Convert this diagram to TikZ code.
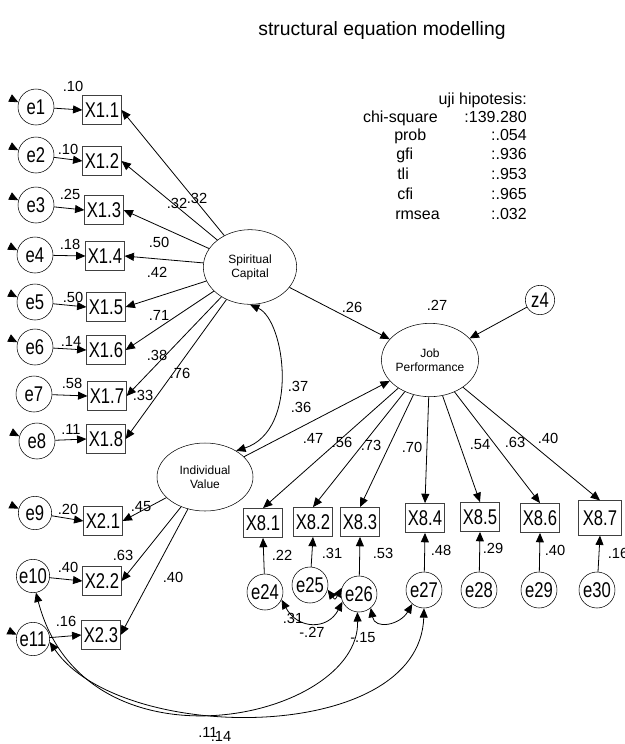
\documentclass[tikz,border=0pt]{standalone}
\usepackage{fontspec}
\setmainfont{Liberation Sans}
\newfontfamily\narrowfont{Liberation Sans}[FakeStretch=0.78]
\usepackage{tikz}
\usetikzlibrary{arrows.meta,shapes.geometric,calc}
\tikzset{
 latent/.style={draw,ellipse,minimum width=72pt,minimum height=55pt,inner sep=0pt,align=center,
   font=\fontsize{9}{10.5}\selectfont},
 obs/.style={draw=black!75,minimum width=29pt,minimum height=22pt,inner sep=0pt,
   font=\narrowfont\fontsize{16}{16}\selectfont},
 errc/.style={draw,circle,minimum size=27pt,inner sep=0pt,font=\narrowfont\fontsize{16}{16}\selectfont},
 arr/.style={-{Triangle[length=7pt,width=6pt]},line width=0.6pt},
 cov/.style={{Triangle[length=7pt,width=6pt]}-{Triangle[length=7pt,width=6pt]},line width=0.6pt},
 lbl/.style={font=\fontsize{11}{11}\selectfont,inner sep=0pt},
 stat/.style={font=\fontsize{12}{12}\selectfont,inner sep=0pt,text height=1.5ex,text depth=.3ex}
}
\begin{document}
\begin{tikzpicture}[x=0.75pt,y=-0.75pt]
\useasboundingbox (0,0) rectangle (625,744);
\node[font=\fontsize{14.5}{15}\selectfont] (title) at (382,30) {structural equation modelling};
% fit summary
\node[stat,anchor=east] (hyp) at (527,100) {uji hipotesis:};
\node[stat,anchor=east] (chil) at (438,118) {chi-square}; \node[stat,anchor=east] (chiv) at (527,118) {:139.280};
\node[stat,anchor=west] (probl) at (394,136) {prob}; \node[stat,anchor=east] (probv) at (527,136) {:.054};
\node[stat,anchor=west] (gfil) at (396,155) {gfi}; \node[stat,anchor=east] (gfiv) at (527,155) {:.936};
\node[stat,anchor=west] (tlil) at (397,175) {tli}; \node[stat,anchor=east] (tliv) at (527,175) {:.953};
\node[stat,anchor=west] (cfil) at (397,195) {cfi}; \node[stat,anchor=east] (cfiv) at (527,195) {:.965};
\node[stat,anchor=west] (rmsl) at (395,215) {rmsea}; \node[stat,anchor=east] (rmsv) at (527,215) {:.032};
% latent variables
\node[latent,minimum width=70pt,minimum height=56pt] (sc) at (250,267) {Spiritual\\Capital};
\node[latent,minimum height=51pt] (iv) at (205,477) {Individual\\Value};
\node[latent] (jp) at (430,360) {Job\\Performance};
\node[errc,minimum size=22pt] (z4) at (540,300) {z4};
% indicators of Spiritual Capital
\node[obs] (x11) at (102,110) {X1.1}; \node[errc] (e1) at (36,107) {e1};
\node[obs] (x12) at (102,161) {X1.2}; \node[errc] (e2) at (36,155) {e2};
\node[obs] (x13) at (104,210) {X1.3}; \node[errc] (e3) at (36,205) {e3};
\node[obs] (x14) at (105,256) {X1.4}; \node[errc] (e4) at (35,255) {e4};
\node[obs] (x15) at (106,307) {X1.5}; \node[errc] (e5) at (35,302) {e5};
\node[obs] (x16) at (106,350) {X1.6}; \node[errc] (e6) at (35,347) {e6};
\node[obs] (x17) at (107,396) {X1.7}; \node[errc] (e7) at (34,394) {e7};
\node[obs] (x18) at (106,439) {X1.8}; \node[errc] (e8) at (37,441) {e8};
% indicators of Individual Value
\node[obs] (x21) at (103,521) {X2.1}; \node[errc,minimum size=25pt] (e9) at (35,513) {e9};
\node[obs] (x22) at (102,581) {X2.2}; \node[errc,minimum size=25pt] (e10) at (33,576) {e10};
\node[obs] (x23) at (101,635) {X2.3}; \node[errc,minimum size=25pt] (e11) at (33,639) {e11};
% indicators of Job Performance
\node[obs] (x81) at (263,523) {X8.1}; \node[errc] (e24) at (265,592) {e24};
\node[obs] (x82) at (313,522) {X8.2}; \node[errc] (e25) at (310,585) {e25};
\node[obs] (x83) at (360,522) {X8.3}; \node[errc] (e26) at (359,594) {e26};
\node[obs] (x84) at (425,518) {X8.4}; \node[errc] (e27) at (424,590) {e27};
\node[obs] (x85) at (480,517) {X8.5}; \node[errc] (e28) at (479,590) {e28};
\node[obs] (x86) at (540,518) {X8.6}; \node[errc] (e29) at (539,590) {e29};
\node[obs,minimum width=32pt,minimum height=26pt] (x87) at (600,518) {X8.7}; \node[errc] (e30) at (597,590) {e30};
% paths
\draw[arr] (sc) -- (x11.east); \draw[arr] (sc) -- (x12.east); \draw[arr] (sc) -- (x13.east); \draw[arr] (sc) -- (x14.east);
\draw[arr] (sc) -- (x15.east); \draw[arr] (sc) -- (x16.east); \draw[arr] (sc) -- (x17.east); \draw[arr] (sc) -- (x18.east);
\draw[arr] (iv) -- (x21.east); \draw[arr] (iv) -- (x22.east); \draw[arr] (iv) -- (x23.east);
\draw[arr] (jp) -- (x81.north); \draw[arr] (jp) -- (x82.north); \draw[arr] (jp) -- (x83.north); \draw[arr] (jp) -- (x84.north);
\draw[arr] (jp) -- (x85.north); \draw[arr] (jp) -- (x86.north); \draw[arr] (jp) -- (x87.north);
\draw[arr] (sc) -- (jp); \draw[arr] (iv) -- (jp); \draw[arr] (z4) -- (jp);
\draw[arr] (e1) -- (x11.west); \draw[arr] (e2) -- (x12.west); \draw[arr] (e3) -- (x13.west); \draw[arr] (e4) -- (x14.west);
\draw[arr] (e5) -- (x15.west); \draw[arr] (e6) -- (x16.west); \draw[arr] (e7) -- (x17.west); \draw[arr] (e8) -- (x18.west);
\draw[arr] (e9) -- (x21.west); \draw[arr] (e10) -- (x22.west); \draw[arr] (e11) -- (x23.west);
\draw[arr] (e24) -- (x81.south); \draw[arr] (e25) -- (x82.south); \draw[arr] (e26) -- (x83.south); \draw[arr] (e27) -- (x84.south);
\draw[arr] (e28) -- (x85.south); \draw[arr] (e29) -- (x86.south); \draw[arr] (e30) -- (x87.south);
% tips of paths cut by the left margin
\foreach \e in {e1,e2,e3,e4,e5,e6,e8,e9,e11}{
  \coordinate (\e v) at ($(\e)+(-24,-8)$);
  \draw[arr] (\e v) -- (\e.165);
}
% covariances
\draw[cov] (sc.-90) .. controls (285,320) and (300,430) .. (iv.40);
\draw[cov] (e24.-25) .. controls (298,630) and (328,630) .. (e26.205);
\draw[cov] (e25.-15) .. controls (335,600) .. (e26.160);
\draw[cov] (e26.-50) .. controls (375,630) and (400,625) .. (e27.-130);
\draw[cov] (e10.-80) .. controls (85,780) and (360,720) .. (e26.-95);
\draw[cov] (e11.-10) .. controls (120,745) and (420,745) .. (e27.-90);
% estimates
\node[lbl] (r1) at (73,86) {.10}; \node[lbl] (r2) at (68,149) {.10}; \node[lbl] (r3) at (70,194) {.25};
\node[lbl] (r4) at (70,244) {.18}; \node[lbl] (r5) at (73,297) {.50}; \node[lbl] (r6) at (71,341) {.14};
\node[lbl] (r7) at (72,383) {.58}; \node[lbl] (r8) at (71,429) {.11};
\node[lbl] (r9) at (68,509) {.20}; \node[lbl] (r10) at (68,567) {.40}; \node[lbl] (r11) at (66,621) {.16};
\node[lbl] (l11) at (197,198) {.32}; \node[lbl] (l12) at (177,203) {.32}; \node[lbl] (l13) at (159,242) {.50};
\node[lbl] (l14) at (157,272) {.42}; \node[lbl] (l15) at (159,315) {.71}; \node[lbl] (l16) at (157,355) {.38};
\node[lbl] (l18) at (180,373) {.76}; \node[lbl] (l17) at (143,395) {.33};
\node[lbl] (l21) at (141,507) {.45}; \node[lbl] (l22) at (123,555) {.63}; \node[lbl] (l23) at (173,577) {.40};
\node[lbl] (b1) at (352,307) {.26}; \node[lbl] (c1) at (298,386) {.37}; \node[lbl] (b2) at (301,407) {.36};
\node[lbl] (rjp) at (437,305) {.27};
\node[lbl] (l81) at (313,438) {.47}; \node[lbl] (l82) at (342,442) {.56}; \node[lbl] (l83) at (371,445) {.73};
\node[lbl] (l84) at (412,447) {.70}; \node[lbl] (l85) at (480,445) {.54}; \node[lbl] (l86) at (515,442) {.63};
\node[lbl] (l87) at (548,438) {.40};
\node[lbl] (r81) at (282,555) {.22}; \node[lbl] (r82) at (332,553) {.31}; \node[lbl] (r83) at (383,553) {.53};
\node[lbl] (r84) at (441,550) {.48}; \node[lbl] (r85) at (493,548) {.29}; \node[lbl] (r86) at (555,550) {.40};
\node[lbl] (r87) at (618,553) {.16};
\node[lbl] (c2) at (293,618) {.31}; \node[lbl] (c3) at (312,632) {-.27}; \node[lbl] (c4) at (363,638) {-.15};
\node[lbl] (c5) at (208,732) {.11}; \node[lbl] (c6) at (221,736) {.14};
\end{tikzpicture}
\end{document}
